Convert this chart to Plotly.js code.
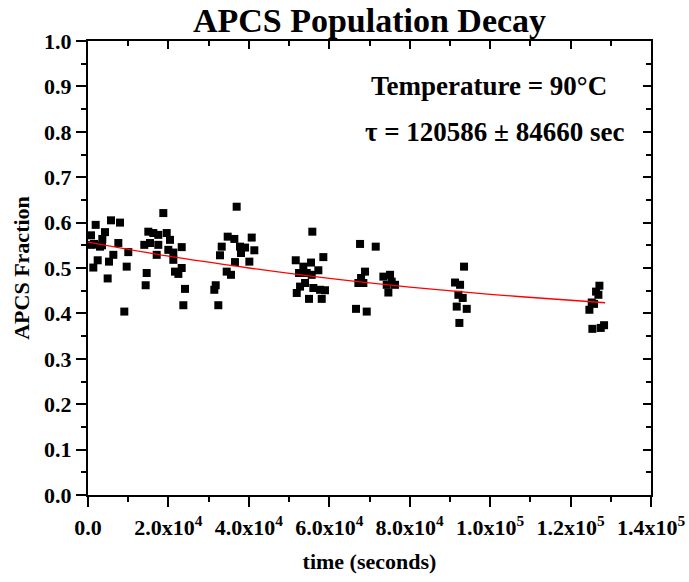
<!DOCTYPE html>
<html>
<head>
<meta charset="utf-8">
<script src="https://cdn.plot.ly/plotly-3.0.1.min.js"></script>
<style>html,body{margin:0;padding:0;background:#fff;}#chart{width:689px;height:582px;}</style>
</head>
<body>
<div id="chart"></div>
<script>
// measured points: time (s) and APCS fraction
const timeSec = [
  750,1910,5720,7960,4230,3560,920,2980,7540,10020,6300,5220,2410,1320,9620,4890,9030,1490,3480,
  18730,15000,16240,17480,19570,20390,14000,15420,17480,19970,23300,21220,17080,21220,23300,21640,22470,14590,14340,24120,23710,
  36970,34740,36390,40710,33250,37800,39050,41360,32830,38050,36560,40120,34490,35560,31760,31410,32410,
  55780,58520,51660,55460,53550,57280,52480,54390,55630,53970,52730,51910,56030,57700,58940,54960,58120,
  67650,71550,68890,67230,68470,66650,69310,67900,73450,75110,74280,76350,74690,75520,
  91270,92520,93510,92100,93180,91690,94180,92350,
  127170,126340,126920,125260,125840,124680,125420,127500,128330
];
const apcsFraction = [
  0.572,0.595,0.605,0.600,0.579,0.564,0.551,0.547,0.555,0.535,0.529,0.514,0.517,0.501,0.503,0.477,0.404,0.553,0.550,
  0.621,0.580,0.577,0.573,0.577,0.562,0.551,0.555,0.551,0.540,0.546,0.534,0.529,0.518,0.500,0.492,0.487,0.489,0.462,0.454,0.418,
  0.635,0.569,0.564,0.567,0.547,0.547,0.545,0.539,0.528,0.533,0.513,0.514,0.492,0.485,0.462,0.452,0.418,
  0.580,0.524,0.517,0.512,0.503,0.495,0.489,0.489,0.485,0.467,0.459,0.445,0.456,0.452,0.451,0.432,0.432,
  0.553,0.547,0.492,0.467,0.467,0.410,0.404,0.478,0.481,0.485,0.463,0.463,0.446,0.470,
  0.468,0.463,0.503,0.441,0.434,0.415,0.410,0.379,
  0.461,0.448,0.441,0.424,0.421,0.408,0.366,0.368,0.374
];
// fitted decay curve
const fitT = [0,20000,40000,60000,80000,100000,120000,128600];
const fitY = [0.557,0.526,0.500,0.477,0.458,0.442,0.429,0.4235];

const xTickVals = [0,20000,40000,60000,80000,100000,120000,140000];
const xTickText = ['0.0','2.0x10<sup>4</sup>','4.0x10<sup>4</sup>','6.0x10<sup>4</sup>','8.0x10<sup>4</sup>','1.0x10<sup>5</sup>','1.2x10<sup>5</sup>','1.4x10<sup>5</sup>'];
const xMinorVals = [10000,30000,50000,70000,90000,110000,130000];
const yTickVals = [0,0.1,0.2,0.3,0.4,0.5,0.6,0.7,0.8,0.9,1.0];
const yTickText = ['0.0','0.1','0.2','0.3','0.4','0.5','0.6','0.7','0.8','0.9','1.0'];
const yMinorVals = [0.05,0.15,0.25,0.35,0.45,0.55,0.65,0.75,0.85,0.95];

const FONT = 'Liberation Serif, Times New Roman, serif';

const traces = [
  {x: timeSec, y: apcsFraction, type:'scatter', mode:'markers',
   marker:{symbol:'square', size:8, color:'#000'}, hoverinfo:'none', showlegend:false},
  {x: fitT, y: fitY, type:'scatter', mode:'lines', line:{color:'#ff0000', width:1.3, shape:'spline'},
   hoverinfo:'none', showlegend:false},
  {x: [], y: [], xaxis:'x2', yaxis:'y2', type:'scatter', mode:'markers', hoverinfo:'none', showlegend:false}
];

const tickFont = {family:FONT, size:22, color:'#000', weight:'bold'};
const axisCommon = {
  showline:true, linewidth:2, linecolor:'#000', mirror:true,
  ticks:'outside', ticklen:10, tickwidth:2, tickcolor:'#000',
  showgrid:false, zeroline:false, automargin:false, tickfont:tickFont
};

const layout = {
  width:689, height:582,
  margin:{l:88, r:38, t:41, b:87},
  paper_bgcolor:'#fff', plot_bgcolor:'#fff',
  font:{family:FONT, color:'#000', weight:'bold'},
  title:{text:'APCS Population Decay', font:{family:FONT, size:34, color:'#000', weight:'bold'},
         x:0.5, xref:'paper', xanchor:'center', y:1, yref:'paper', yanchor:'bottom', pad:{b:9}},
  xaxis: Object.assign({}, axisCommon, {
    range:[0,140000], tickmode:'array', tickvals:xTickVals, ticktext:xTickText, ticklabelstandoff:2,
    minor:{tickmode:'array', tickvals:xMinorVals, ticks:'outside', ticklen:5, tickwidth:2, tickcolor:'#000'},
    title:{text:'time (seconds)', font:{family:FONT, size:22, color:'#000', weight:'bold'}, standoff:14}
  }),
  yaxis: Object.assign({}, axisCommon, {
    range:[0,1], tickmode:'array', tickvals:yTickVals, ticktext:yTickText,
    minor:{tickmode:'array', tickvals:yMinorVals, ticks:'outside', ticklen:5, tickwidth:2, tickcolor:'#000'},
    title:{text:'APCS Fraction', font:{family:FONT, size:22, color:'#000', weight:'bold'}, standoff:8}
  }),
  xaxis2: {
    overlaying:'x', side:'top', range:[0,140000], tickmode:'array', tickvals:xTickVals,
    showticklabels:false, showline:false, showgrid:false, zeroline:false,
    ticks:'inside', ticklen:8, tickwidth:2, tickcolor:'#000',
    minor:{tickmode:'array', tickvals:xMinorVals, ticks:'inside', ticklen:5, tickwidth:2, tickcolor:'#000'}
  },
  yaxis2: {
    overlaying:'y', side:'right', range:[0,1], tickmode:'array', tickvals:yTickVals,
    showticklabels:false, showline:false, showgrid:false, zeroline:false,
    ticks:'inside', ticklen:8, tickwidth:2, tickcolor:'#000',
    minor:{tickmode:'array', tickvals:yMinorVals, ticks:'inside', ticklen:5, tickwidth:2, tickcolor:'#000'}
  },
  annotations:[
    {text:'Temperature = 90°C', xref:'paper', yref:'paper', x:0.712, y:0.9, xanchor:'center', yanchor:'middle', showarrow:false,
     font:{family:FONT, size:27, color:'#000', weight:'bold'}},
    {text:'τ = 120586 ± 84660 sec', xref:'paper', yref:'paper', x:0.722, y:0.8, xanchor:'center', yanchor:'middle', showarrow:false,
     font:{family:FONT, size:27, color:'#000', weight:'bold'}}
  ]
};

Plotly.newPlot('chart', traces, layout, {displayModeBar:false, staticPlot:true});
</script>
</body>
</html>
